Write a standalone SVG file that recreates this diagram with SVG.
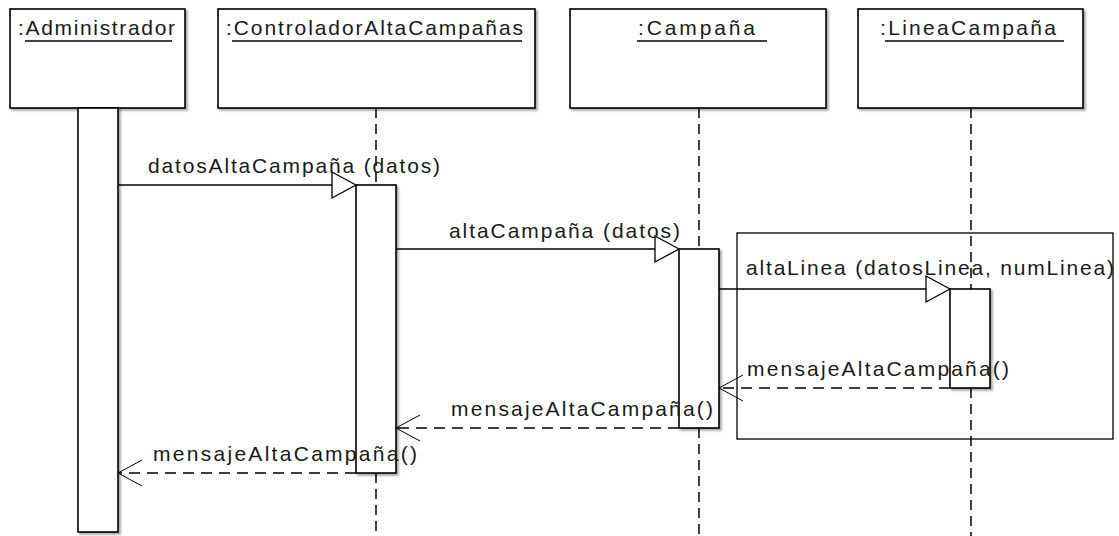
<svg xmlns="http://www.w3.org/2000/svg" width="1119" height="536" viewBox="0 0 1119 536">
<defs>
<filter id="sh" x="-20%" y="-5%" width="150%" height="115%">
<feDropShadow dx="2" dy="2" stdDeviation="1.2" flood-color="#000" flood-opacity="0.35"/>
</filter>
</defs>
<style>
.box{fill:#fff;stroke:#000;stroke-width:1.6}
.bar{fill:#fff;stroke:#000;stroke-width:1.6}
.life{stroke:#000;stroke-width:1.5;stroke-dasharray:10 6;fill:none}
.msg{stroke:#000;stroke-width:1.3;fill:none}
.ret{stroke:#000;stroke-width:1.3;fill:none;stroke-dasharray:11 7}
.head{fill:#fff;stroke:#000;stroke-width:1.3}
.open{fill:none;stroke:#000;stroke-width:1}
.ul{stroke:#000;stroke-width:1.5}
.frame{fill:none;stroke:#000;stroke-width:1.3}
text{font-family:"Liberation Sans",Arial,sans-serif;font-size:21px;fill:#1a1a1a}
</style>
<rect id="fragment" class="frame" x="737" y="233" width="376" height="206"/>
<g id="administrador">
<rect class="box" filter="url(#sh)" x="10" y="9" width="175" height="99"/>
<text x="18" y="35" textLength="157" lengthAdjust="spacing">:Administrador</text>
<line class="ul" x1="25" y1="41" x2="172" y2="41"/>
<rect class="bar" filter="url(#sh)" x="78" y="108" width="40" height="424"/>
</g>
<g id="controlador">
<rect class="box" filter="url(#sh)" x="218" y="9" width="317" height="99"/>
<text x="226" y="35" textLength="297" lengthAdjust="spacing">:ControladorAltaCampañas</text>
<line class="ul" x1="232" y1="41" x2="522" y2="41"/>
<line class="life" x1="376" y1="108" x2="376" y2="185"/>
<line class="life" x1="376" y1="473" x2="376" y2="536"/>
<rect class="bar" filter="url(#sh)" x="356" y="185" width="40" height="288"/>
</g>
<g id="campana">
<rect class="box" filter="url(#sh)" x="570" y="9" width="256" height="99"/>
<text x="638" y="35" textLength="117" lengthAdjust="spacing">:Campaña</text>
<line class="ul" x1="637" y1="41" x2="767" y2="41"/>
<line class="life" x1="699" y1="108" x2="699" y2="249"/>
<line class="life" x1="699" y1="428" x2="699" y2="536"/>
<rect class="bar" filter="url(#sh)" x="679" y="249" width="40" height="179"/>
</g>
<g id="lineacampana">
<rect class="box" filter="url(#sh)" x="858" y="9" width="225" height="99"/>
<text x="880" y="35" textLength="176" lengthAdjust="spacing">:LineaCampaña</text>
<line class="ul" x1="885" y1="41" x2="1064" y2="41"/>
<line class="life" x1="971" y1="108" x2="971" y2="289"/>
<line class="life" x1="971" y1="388" x2="971" y2="536"/>
<rect class="bar" filter="url(#sh)" x="950" y="289" width="40" height="99"/>
</g>
<g id="connectors">
<line class="msg" x1="118" y1="185" x2="332" y2="185"/>
<polygon class="head" points="356,185 332,172 332,198"/>
<line class="msg" x1="396" y1="249" x2="655" y2="249"/>
<polygon class="head" points="679,249 655,236 655,262"/>
<line class="msg" x1="719" y1="289" x2="926" y2="289"/>
<polygon class="head" points="950,289 926,276 926,302"/>
<line class="ret" x1="950" y1="388" x2="720" y2="388"/>
<polyline class="open" points="743,375 719,388 743,401"/>
<line class="ret" x1="679" y1="428" x2="397" y2="428"/>
<polyline class="open" points="420,415 396,428 420,441"/>
<line class="ret" x1="356" y1="473" x2="119" y2="473"/>
<polyline class="open" points="142,460 118,473 142,486"/>
<text x="148" y="173" textLength="292" lengthAdjust="spacing">datosAltaCampaña (datos)</text>
<text x="449" y="238" textLength="231" lengthAdjust="spacing">altaCampaña (datos)</text>
<text x="746" y="275" textLength="368" lengthAdjust="spacing">altaLinea (datosLinea, numLinea)</text>
<text x="747" y="376" textLength="262" lengthAdjust="spacing">mensajeAltaCampaña()</text>
<text x="451" y="416" textLength="262" lengthAdjust="spacing">mensajeAltaCampaña()</text>
<text x="153" y="461" textLength="264" lengthAdjust="spacing">mensajeAltaCampaña()</text>
</g>
</svg>
